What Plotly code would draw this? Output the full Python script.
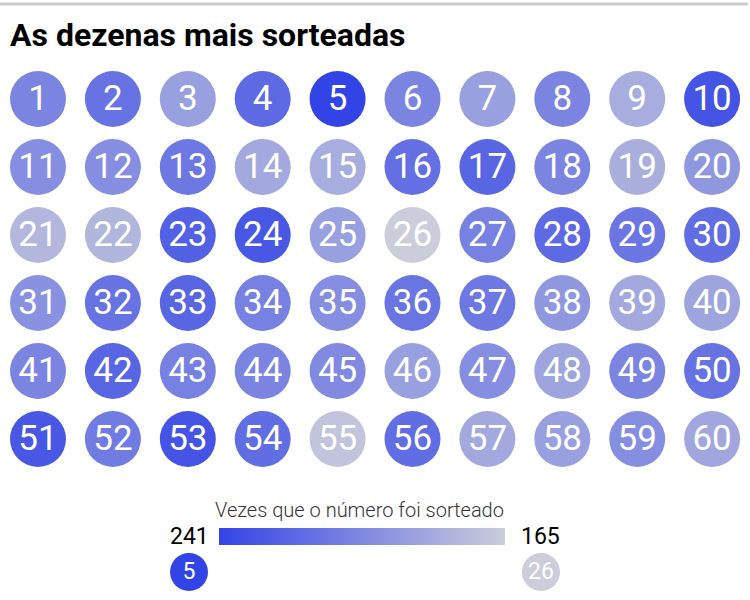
import plotly.graph_objects as go

## Dados: quantas vezes cada dezena foi sorteada
dezenas = list(range(1, 61))
vezes = [
    205, 215, 190, 220, 241, 205, 190, 205, 183, 232,
    200, 200, 212, 185, 183, 217, 222, 205, 182, 195,
    177, 178, 225, 230, 190, 165, 207, 220, 213, 218,
    198, 215, 222, 207, 200, 214, 212, 195, 185, 188,
    205, 222, 207, 205, 202, 190, 200, 188, 205, 215,
    230, 210, 232, 218, 170, 218, 185, 190, 200, 186,
]
titulo = "As dezenas mais sorteadas"
legenda_titulo = "Vezes que o número foi sorteado"

vmax = max(vezes)
vmin = min(vezes)
dez_max = dezenas[vezes.index(vmax)]
dez_min = dezenas[vezes.index(vmin)]

escala = [[0, "#cbcddb"], [1, "#3344e6"]]
fonte = "Roboto"

## grade 10 x 6, em pixels
xs = [38 + 74.9 * ((d - 1) % 10) for d in dezenas]
ys = [99 + 68 * ((d - 1) // 10) for d in dezenas]

fig = go.Figure()
fig.add_trace(go.Scatter(
    x=xs, y=ys, mode="markers",
    marker=dict(size=56, color=vezes, colorscale=escala, cmin=vmin, cmax=vmax,
                line=dict(width=0)),
    customdata=dezenas,
    hovertemplate="%{customdata}: %{marker.color}<extra></extra>",
    showlegend=False,
))
# números dentro das bolinhas (um pouco abaixo do centro, como no original)
fig.add_trace(go.Scatter(
    x=xs, y=[y + 2 for y in ys], mode="text",
    text=[str(d) for d in dezenas],
    textposition="middle center",
    textfont=dict(family=fonte, size=35, color="white"),
    hoverinfo="skip", showlegend=False,
))

## bolinhas da legenda (máximo e mínimo)
fig.add_trace(go.Scatter(
    x=[189, 541], y=[572, 572], mode="markers",
    marker=dict(size=38, color=[vmax, vmin], colorscale=escala, cmin=vmin, cmax=vmax),
    hoverinfo="skip", showlegend=False,
))
fig.add_trace(go.Scatter(
    x=[189, 541], y=[573, 573], mode="text",
    text=[str(dez_max), str(dez_min)],
    textposition="middle center",
    textfont=dict(family=fonte, size=23, color="white"),
    hoverinfo="skip", showlegend=False,
))

## barra de gradiente
fig.add_trace(go.Heatmap(
    z=[[vmax, vmin]], x=[0, 1], y=[0],
    colorscale=escala, zmin=vmin, zmax=vmax, zsmooth="best",
    showscale=False, hoverinfo="skip",
    xaxis="x2", yaxis="y2",
))

fig.update_layout(
    width=750, height=600,
    margin=dict(l=0, r=0, t=0, b=0),
    paper_bgcolor="white", plot_bgcolor="white",
    xaxis=dict(range=[0, 750], visible=False, fixedrange=True),
    yaxis=dict(range=[600, 0], visible=False, fixedrange=True),
    xaxis2=dict(domain=[219 / 750, 505 / 750], range=[0, 1], visible=False),
    yaxis2=dict(domain=[(600 - 545) / 600, (600 - 528) / 600], range=[-0.5, 0.5], visible=False),
    shapes=[dict(type="line", xref="paper", yref="paper", x0=0, x1=0.997,
                 y0=1 - 4 / 600, y1=1 - 4 / 600, line=dict(color="#cccccc", width=3))],
    annotations=[
        dict(text="<b>" + titulo + "</b>", xref="paper", yref="paper",
             x=8 / 750, y=1 - 35 / 600, xanchor="left", yanchor="middle",
             showarrow=False, font=dict(family=fonte, size=32, color="black")),
        dict(text=legenda_titulo, xref="paper", yref="paper",
             x=359 / 750, y=1 - 510 / 600, xanchor="center", yanchor="middle",
             showarrow=False, font=dict(family=fonte, size=20, color="#333333", weight=300)),
        dict(text=str(vmax), xref="paper", yref="paper",
             x=189 / 750, y=1 - 536 / 600, xanchor="center", yanchor="middle",
             showarrow=False, font=dict(family=fonte, size=23, color="black")),
        dict(text=str(vmin), xref="paper", yref="paper",
             x=540 / 750, y=1 - 536 / 600, xanchor="center", yanchor="middle",
             showarrow=False, font=dict(family=fonte, size=23, color="black")),
    ],
)

# sem a margem padrão do <body>, o gráfico ocupa a janela inteira
fig.write_html("out.html", config={"displayModeBar": False},
               post_script="document.body.style.margin='0';")
